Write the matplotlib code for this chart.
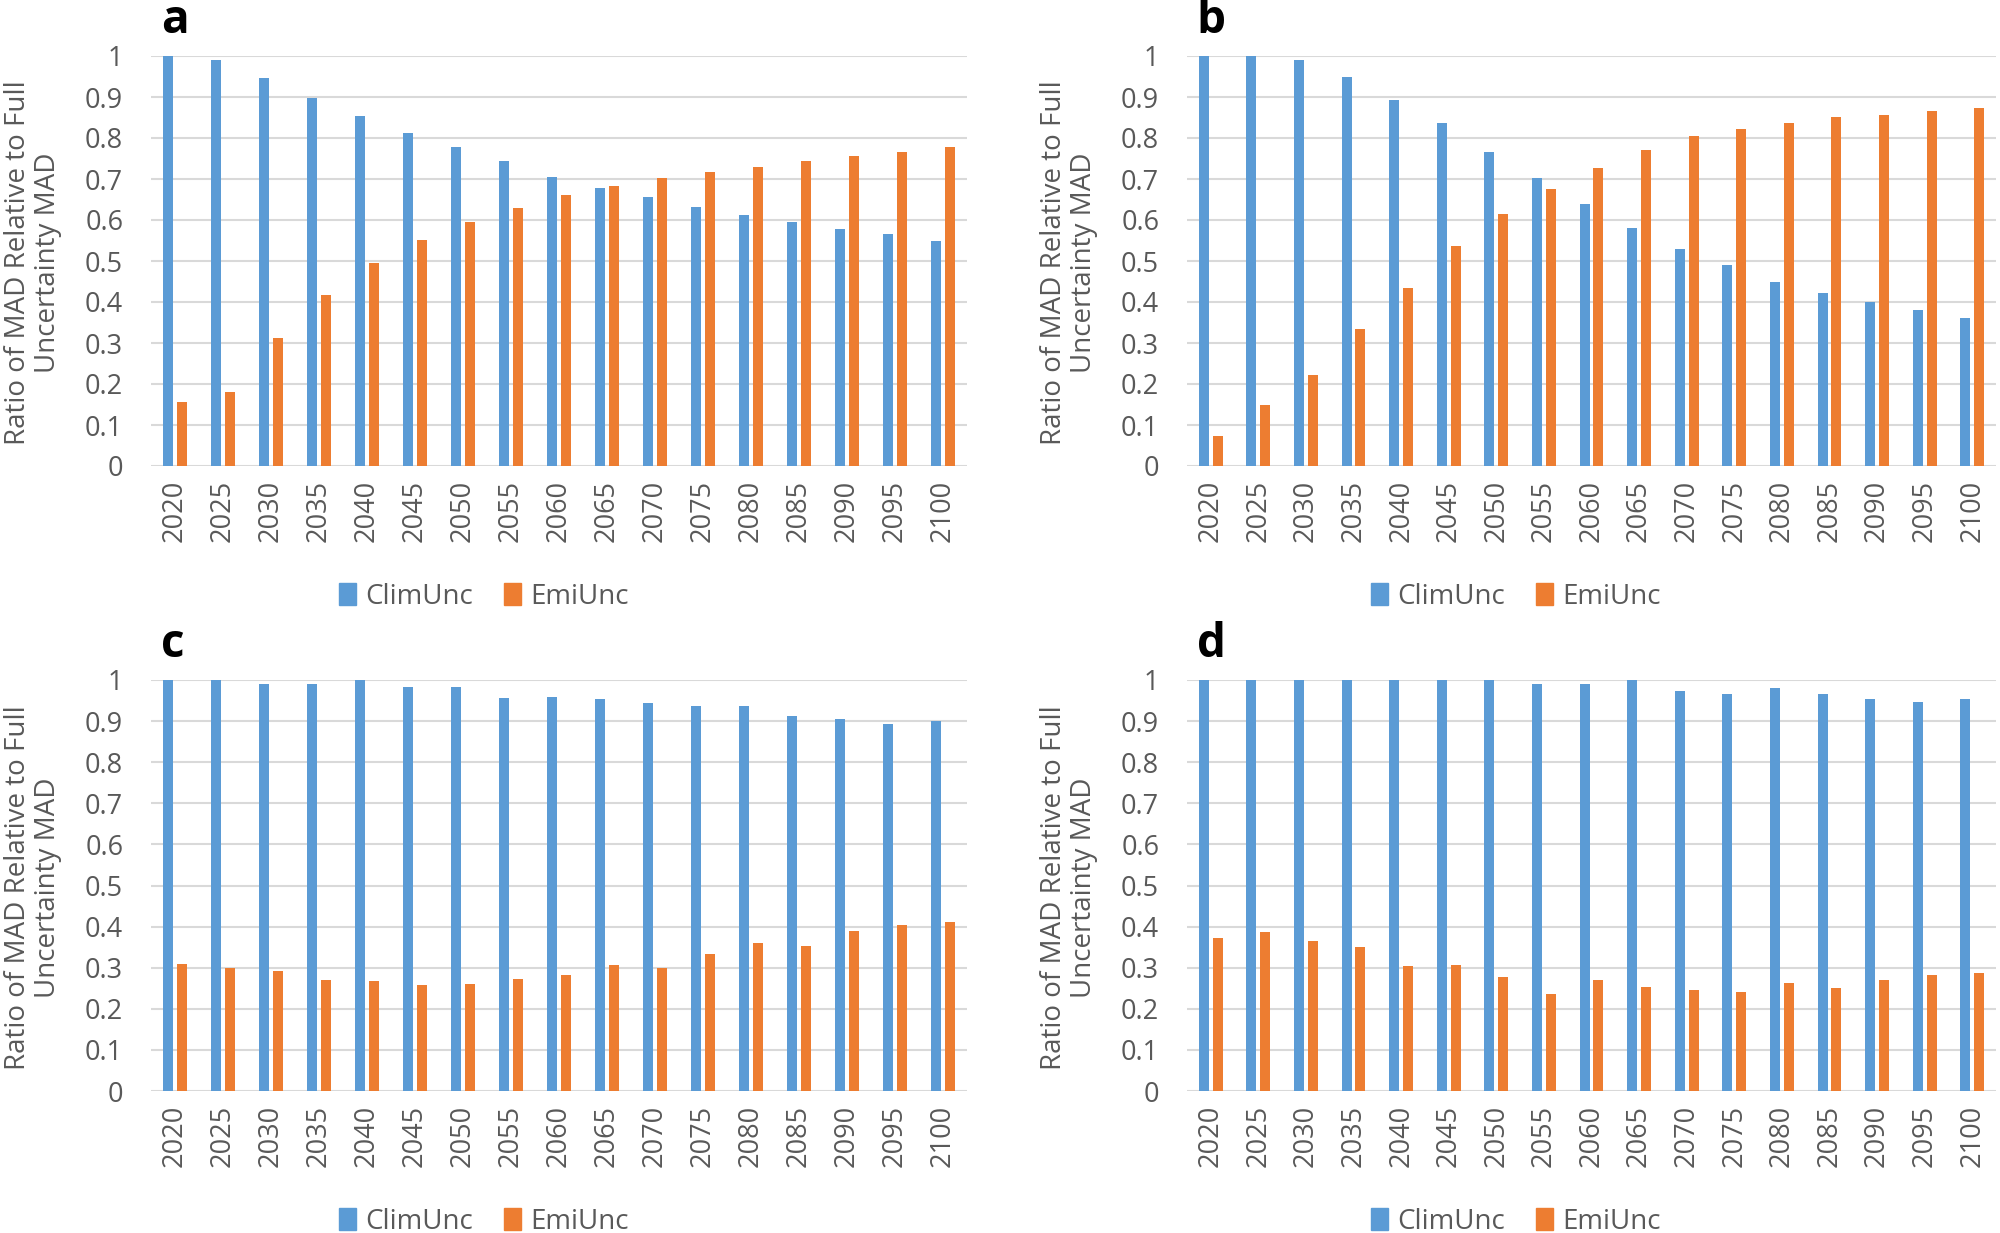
import matplotlib
matplotlib.use("Agg")
import matplotlib.pyplot as plt
import numpy as np
from matplotlib.patches import Patch

years = ["2020", "2025", "2030", "2035", "2040", "2045", "2050", "2055", "2060",
         "2065", "2070", "2075", "2080", "2085", "2090", "2095", "2100"]

clim_a = [1.0, 0.99, 0.947, 0.897, 0.853, 0.813, 0.777, 0.743, 0.706, 0.679,
          0.655, 0.632, 0.612, 0.596, 0.578, 0.565, 0.548]
emi_a = [0.157, 0.18, 0.313, 0.417, 0.494, 0.552, 0.596, 0.629, 0.66, 0.683,
         0.702, 0.716, 0.729, 0.743, 0.756, 0.766, 0.777]

clim_b = [1.0, 1.0, 0.99, 0.95, 0.893, 0.836, 0.765, 0.702, 0.638, 0.58,
          0.53, 0.49, 0.449, 0.422, 0.40, 0.38, 0.362]
emi_b = [0.072, 0.15, 0.222, 0.333, 0.434, 0.537, 0.615, 0.675, 0.726, 0.77,
         0.806, 0.822, 0.836, 0.852, 0.856, 0.866, 0.872]

clim_c = [1.0, 1.0, 0.99, 0.99, 1.0, 0.983, 0.983, 0.956, 0.959, 0.953,
          0.944, 0.936, 0.936, 0.912, 0.906, 0.893, 0.90]
emi_c = [0.31, 0.30, 0.293, 0.27, 0.267, 0.257, 0.26, 0.273, 0.283, 0.306,
         0.30, 0.334, 0.36, 0.354, 0.39, 0.403, 0.41]

clim_d = [1.0, 1.0, 1.0, 1.0, 1.0, 1.0, 1.0, 0.99, 0.99, 1.0,
          0.973, 0.966, 0.98, 0.966, 0.953, 0.946, 0.953]
emi_d = [0.372, 0.386, 0.366, 0.35, 0.303, 0.306, 0.277, 0.236, 0.27, 0.253,
         0.246, 0.24, 0.263, 0.25, 0.27, 0.283, 0.286]

panel_labels = ["a", "b", "c", "d"]
series_names = ["ClimUnc", "EmiUnc"]
ytick_vals = [0, 0.1, 0.2, 0.3, 0.4, 0.5, 0.6, 0.7, 0.8, 0.9, 1.0]
ytick_labels = ["0", "0.1", "0.2", "0.3", "0.4", "0.5", "0.6", "0.7", "0.8", "0.9", "1"]
ylabel = "Ratio of MAD Relative to Full\nUncertainty MAD"

BLUE = "#5B9BD5"
ORANGE = "#ED7D31"
GRAY = "#595959"
GRID = "#D9D9D9"

plt.rcParams['font.family'] = ['Open Sans', 'DejaVu Sans']

fig = plt.figure(figsize=(20, 12.33), dpi=100)

W, H = 2000, 1233
left_x = (151, 967)
right_x = (1187, 1996)
top_y = (56, 466)
bot_y = (680, 1091)

panels = [
    (clim_a, emi_a, left_x, top_y, 484),
    (clim_b, emi_b, right_x, top_y, 1516),
    (clim_c, emi_c, left_x, bot_y, 484),
    (clim_d, emi_d, right_x, bot_y, 1516),
]

x = np.arange(len(years))
bw = 0.21
off = 0.145
for i, (clim, emi, xs, ys, legx) in enumerate(panels):
    ax = fig.add_axes([xs[0] / W, 1 - ys[1] / H, (xs[1] - xs[0]) / W, (ys[1] - ys[0]) / H])
    ax.bar(x - off, clim, width=bw, color=BLUE, zorder=3)
    ax.bar(x + off, emi, width=bw, color=ORANGE, zorder=3)
    ax.set_xlim(-0.5, len(years) - 0.5)
    ax.set_ylim(0, 1)
    ax.set_yticks(ytick_vals)
    ax.set_yticklabels(ytick_labels)
    ax.set_xticks(x)
    ax.set_xticklabels(years, rotation=90)
    ax.tick_params(axis='both', length=0, labelsize=19.5, colors=GRAY)
    ax.tick_params(axis='y', pad=20)
    ax.tick_params(axis='x', pad=10)
    for s in ax.spines.values():
        s.set_visible(False)
    ax.yaxis.grid(True, color=GRID, linewidth=1.5, zorder=0)
    ax.set_axisbelow(True)
    axw = xs[1] - xs[0]
    lab_cx = -118 / axw
    ax.text(lab_cx, 0.495, ylabel, transform=ax.transAxes, rotation=90,
            ha='center', va='center', multialignment='center',
            fontsize=20, color=GRAY, linespacing=1.05)
    ax.text(0.012, 1.03, panel_labels[i], transform=ax.transAxes, fontsize=33,
            fontweight='bold', color='black', ha='left', va='bottom')
    handles = [Patch(color=BLUE, label=series_names[0]),
               Patch(color=ORANGE, label=series_names[1])]
    leg_y = 1 - (ys[1] + 131) / H
    fig.legend(handles=handles, loc='center', bbox_to_anchor=(legx / W, leg_y),
               ncol=2, frameon=False, fontsize=20, handlelength=0.6,
               handleheight=0.85, handletextpad=0.35, columnspacing=1.1,
               labelcolor=GRAY)

fig.savefig("out.png", dpi=100)
